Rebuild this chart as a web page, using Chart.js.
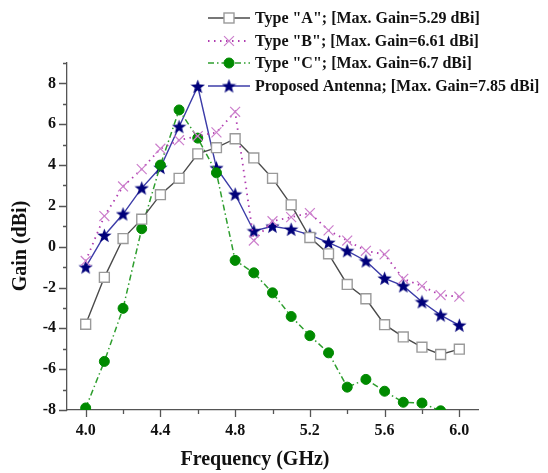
<!DOCTYPE html>
<html>
<head>
<meta charset="utf-8">
<style>
  html, body { margin: 0; padding: 0; background: #ffffff; }
  #wrap { width: 548px; height: 473px; position: relative; }
</style>
<script src="https://cdn.jsdelivr.net/npm/chart.js@4.4.1/dist/chart.umd.min.js"></script>
</head>
<body>
<div id="wrap"><canvas id="gainChart"></canvas></div>
<script>
const frequencies = [4.0, 4.1, 4.2, 4.3, 4.4, 4.5, 4.6, 4.7, 4.8, 4.9, 5.0, 5.1, 5.2, 5.3, 5.4, 5.5, 5.6, 5.7, 5.8, 5.9, 6.0];
const gainTypeA = [-3.8, -1.5, 0.4, 1.35, 2.55, 3.35, 4.55, 4.85, 5.29, 4.35, 3.35, 2.05, 0.45, -0.35, -1.85, -2.55, -3.82, -4.42, -4.92, -5.28, -5.02];
const gainTypeB = [-0.7, 1.5, 2.95, 3.8, 4.8, 5.22, 5.42, 5.6, 6.61, 0.3, 1.25, 1.45, 1.65, 0.8, 0.3, -0.2, -0.38, -1.57, -1.93, -2.37, -2.45];
const gainTypeC = [-7.9, -5.62, -3.02, 0.88, 4.0, 6.7, 5.32, 3.62, -0.67, -1.28, -2.26, -3.42, -4.36, -5.2, -6.88, -6.5, -7.08, -7.62, -7.66, -8.04, -8.4];
const gainProposed = [-1.0, 0.55, 1.6, 2.87, 3.88, 5.88, 7.85, 3.86, 2.57, 0.77, 1.0, 0.85, 0.58, 0.2, -0.2, -0.7, -1.55, -1.92, -2.7, -3.35, -3.85];
const seriesLabels = [
  'Type "A"; [Max. Gain=5.29 dBi]',
  'Type "B"; [Max. Gain=6.61 dBi]',
  'Type "C"; [Max. Gain=6.7 dBi]',
  "Proposed Antenna; [Max. Gain=7.85 dBi]"
];
const xTickValues = [4.0, 4.2, 4.4, 4.6, 4.8, 5.0, 5.2, 5.4, 5.6, 5.8, 6.0];
const xTitle = "Frequency (GHz)";
const yTitle = "Gain (dBi)";

const serif = "'Liberation Serif', 'Times New Roman', serif";
const axisColor = "#555555";

function toPoints(values) {
  return values.map((v, i) => ({ x: frequencies[i], y: v }));
}

// filled five-point star used as the marker of the proposed antenna
function makeStar(size, color) {
  const c = document.createElement("canvas");
  c.width = size;
  c.height = size;
  const g = c.getContext("2d");
  const cx = size / 2;
  const cy = size / 2 + 0.6;
  const outer = size / 2;
  const inner = outer * 0.42;
  g.beginPath();
  for (let i = 0; i < 10; i++) {
    const r = i % 2 === 0 ? outer : inner;
    const a = -Math.PI / 2 + (i * Math.PI) / 5;
    const px = cx + r * Math.cos(a);
    const py = cy + r * Math.sin(a);
    if (i === 0) g.moveTo(px, py);
    else g.lineTo(px, py);
  }
  g.closePath();
  g.fillStyle = color;
  g.fill();
  return c;
}

const starImage = makeStar(15, "#00007a");

const datasets = [
  {
    label: seriesLabels[0],
    data: toPoints(gainTypeA),
    borderColor: "#4a4a4a",
    borderWidth: 1.4,
    pointStyle: "rect",
    pointRadius: 7,
    pointBackgroundColor: "#ffffff",
    pointBorderColor: "#9a9a9a",
    pointBorderWidth: 1.4
  },
  {
    label: seriesLabels[1],
    data: toPoints(gainTypeB),
    borderColor: "#b03cb0",
    borderWidth: 1.8,
    borderDash: [1.5, 4.5],
    pointStyle: "crossRot",
    pointRadius: 7,
    pointBorderColor: "#cc7fcc",
    pointBorderWidth: 1.2
  },
  {
    label: seriesLabels[2],
    data: toPoints(gainTypeC),
    borderColor: "#2e9e2e",
    borderWidth: 1.5,
    borderDash: [6, 3, 1.5, 3],
    pointStyle: "circle",
    pointRadius: 5,
    pointBackgroundColor: "#008a00",
    pointBorderColor: "#008a00",
    pointBorderWidth: 1,
    clip: 0
  },
  {
    label: seriesLabels[3],
    data: toPoints(gainProposed),
    borderColor: "#3c3ca8",
    borderWidth: 1.4,
    pointStyle: starImage,
    pointRadius: 7,
    pointBackgroundColor: "#00007a",
    pointBorderColor: "#00007a"
  }
];

// tick marks, axis titles and the legend are drawn by hand to match the figure
const decorations = {
  id: "decorations",
  afterDraw(chart) {
    const { ctx, chartArea, scales } = chart;
    const xs = scales.x;
    const ys = scales.y;
    ctx.save();
    ctx.strokeStyle = axisColor;
    ctx.lineWidth = 1.3;
    ctx.beginPath();
    xTickValues.forEach((v, i) => {
      const px = Math.round(xs.getPixelForValue(v)) + 0.5;
      const len = i % 2 === 0 ? 7 : 4;
      ctx.moveTo(px, chartArea.bottom);
      ctx.lineTo(px, chartArea.bottom + len);
    });
    for (let v = -8; v <= 9; v++) {
      const py = Math.round(ys.getPixelForValue(v)) + 0.5;
      const len = v % 2 === 0 ? 8 : 4;
      ctx.moveTo(chartArea.left, py);
      ctx.lineTo(chartArea.left - len, py);
    }
    ctx.stroke();

    ctx.fillStyle = "#111111";
    ctx.font = "bold 20px " + serif;
    ctx.textAlign = "center";
    ctx.textBaseline = "middle";
    ctx.fillText(xTitle, 255, 460);
    ctx.translate(21, 246);
    ctx.rotate(-Math.PI / 2);
    ctx.fillText(yTitle, 0, 0);
    ctx.setTransform(1, 0, 0, 1, 0, 0);

    const rowsY = [18, 41, 63, 86];
    const x0 = 208;
    const x1 = 250;
    chart.data.datasets.forEach((ds, i) => {
      const y = rowsY[i];
      ctx.save();
      ctx.strokeStyle = ds.borderColor;
      ctx.lineWidth = ds.borderWidth;
      ctx.setLineDash(ds.borderDash || []);
      ctx.beginPath();
      ctx.moveTo(x0, y);
      ctx.lineTo(x1, y);
      ctx.stroke();
      ctx.setLineDash([]);
      ctx.fillStyle = ds.pointBackgroundColor || "#ffffff";
      ctx.strokeStyle = ds.pointBorderColor;
      ctx.lineWidth = ds.pointBorderWidth || 1;
      if (ds.pointStyle === "rect") {
        ctx.fillRect(x0 + 21 - 5, y - 5, 10, 10);
        ctx.strokeRect(x0 + 21 - 5, y - 5, 10, 10);
      } else {
        Chart.helpers.drawPoint(ctx, {
          pointStyle: ds.pointStyle,
          radius: ds.pointRadius,
          borderWidth: ds.pointBorderWidth || 1,
          rotation: 0
        }, x0 + 21, y);
      }
      ctx.restore();
      ctx.fillStyle = "#111111";
      ctx.font = "bold 16px " + serif;
      ctx.textAlign = "left";
      ctx.textBaseline = "middle";
      ctx.fillText(ds.label, 255, y + 1);
    });
    ctx.restore();
  }
};

new Chart(document.getElementById("gainChart"), {
  type: "line",
  data: { datasets },
  options: {
    responsive: true,
    maintainAspectRatio: false,
    animation: false,
    layout: {
      padding: { top: 63, right: 70, bottom: 0, left: 0 }
    },
    plugins: {
      legend: { display: false },
      tooltip: { enabled: false }
    },
    scales: {
      x: {
        type: "linear",
        min: 3.9,
        max: 6.1,
        afterBuildTicks(scale) {
          scale.ticks = xTickValues.map((v) => ({ value: v }));
        },
        afterFit(scale) {
          scale.height = 63;
        },
        grid: { display: false },
        border: { display: true, color: axisColor, width: 1.3 },
        ticks: {
          autoSkip: false,
          maxRotation: 0,
          padding: 3,
          color: "#111111",
          font: { family: serif, size: 16, weight: "bold" },
          callback(value, index) {
            return index % 2 === 0 ? Number(value).toFixed(1) : "";
          }
        }
      },
      y: {
        min: -8,
        max: 9,
        afterFit(scale) {
          scale.width = 67;
        },
        grid: { display: false },
        border: { display: true, color: axisColor, width: 1.3 },
        ticks: {
          stepSize: 1,
          padding: 3,
          color: "#111111",
          font: { family: serif, size: 16, weight: "bold" },
          callback(value) {
            return value % 2 === 0 && value <= 8 ? String(value) : "";
          }
        }
      }
    }
  },
  plugins: [decorations]
});
</script>
</body>
</html>
